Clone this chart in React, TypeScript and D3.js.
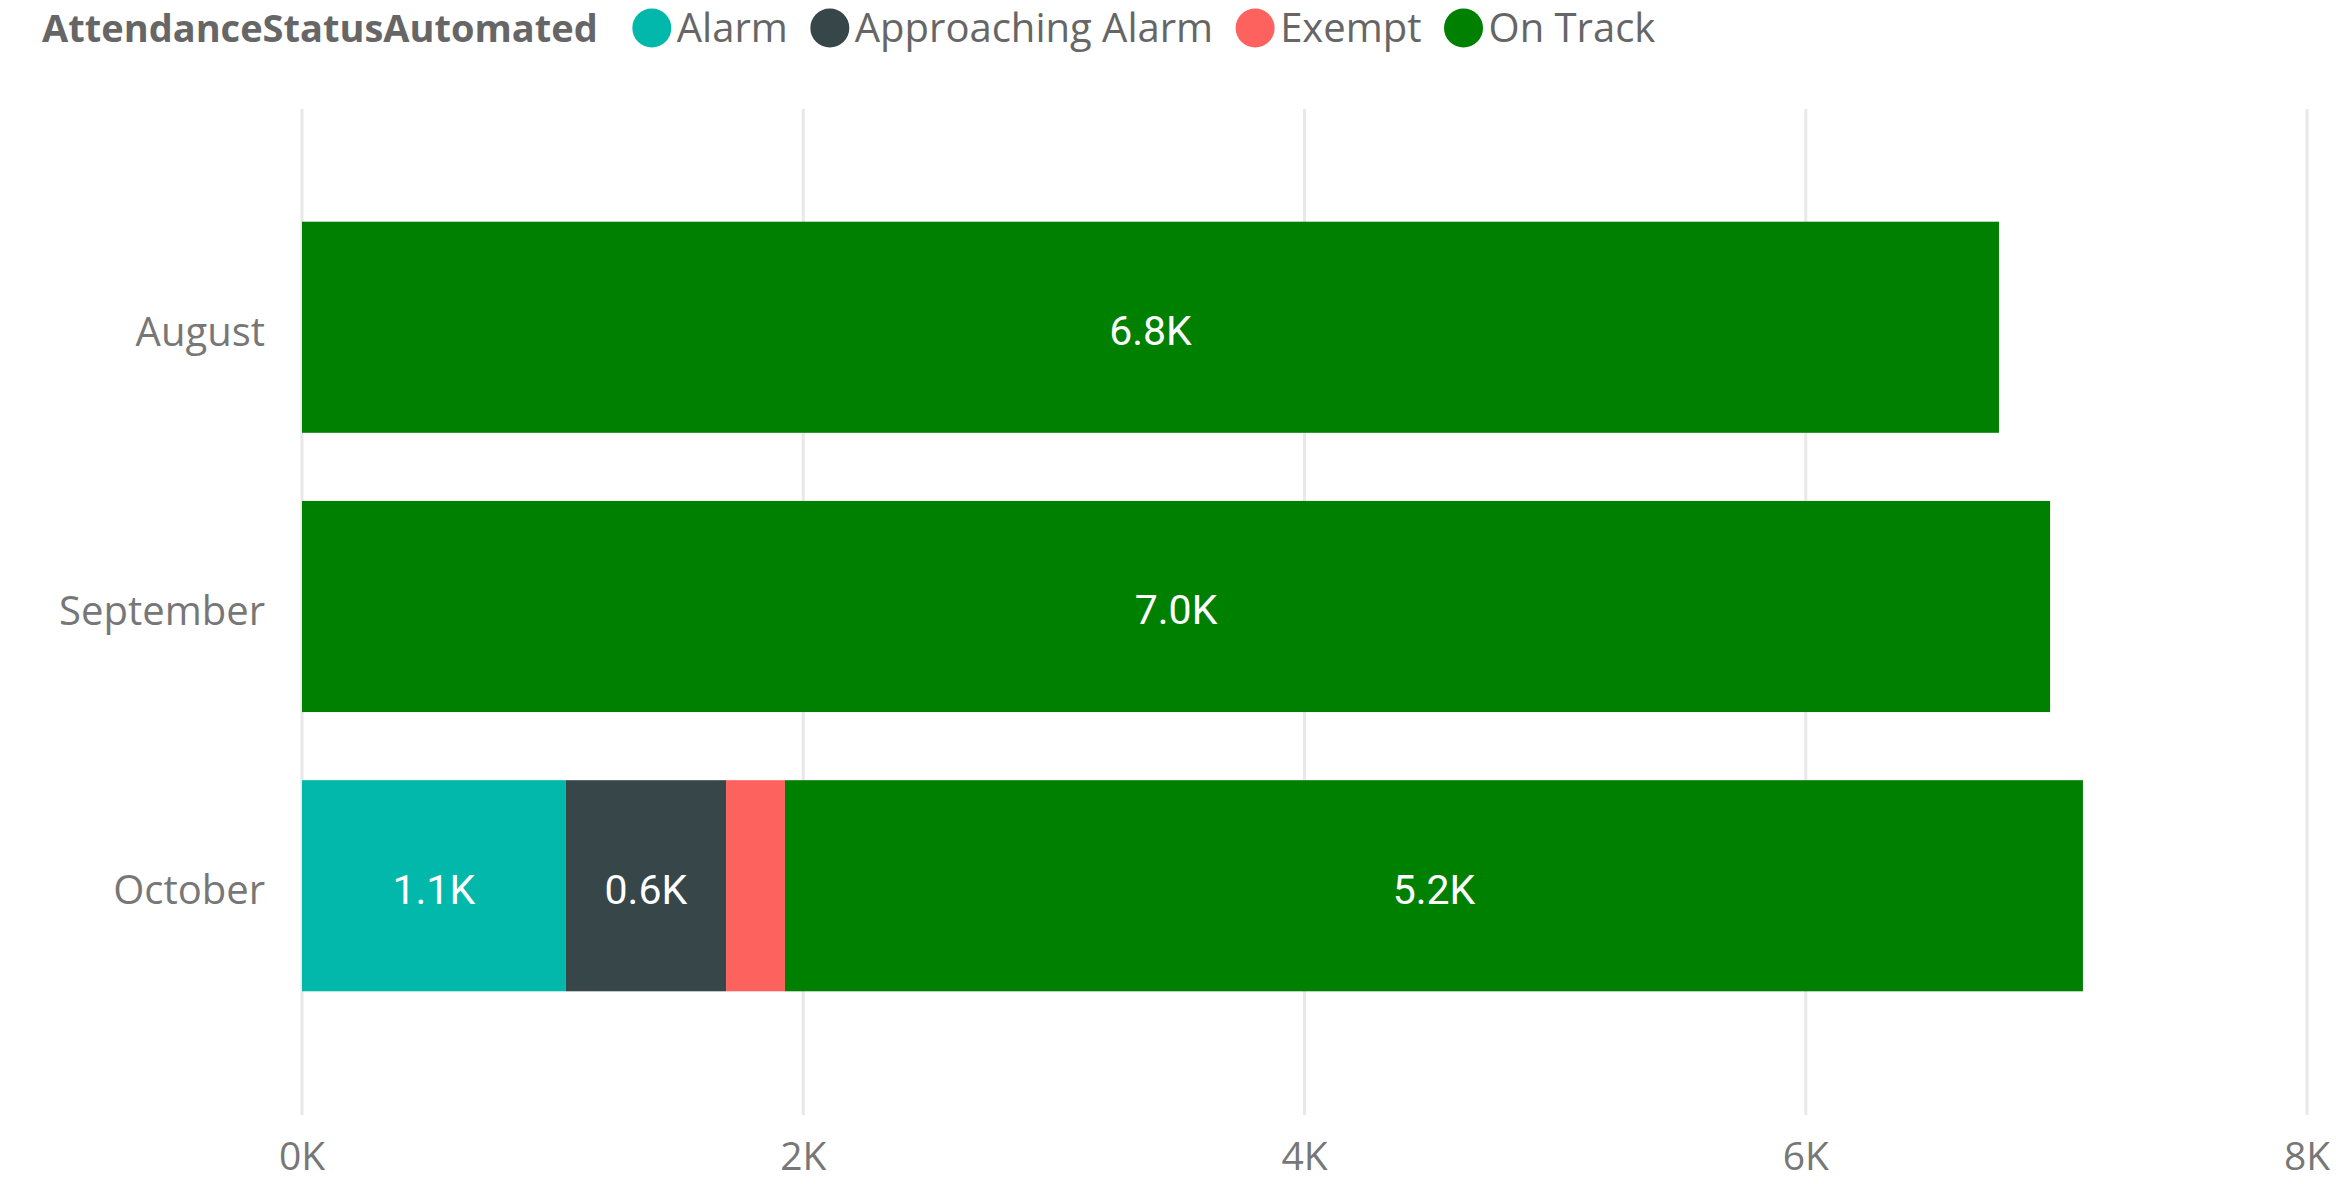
import React, { useEffect, useRef } from "react";
import * as d3 from "d3";

const months = ["August", "September", "October"];
const seriesNames = ["Alarm", "Approaching Alarm", "Exempt", "On Track"];
const alarm = [0, 0, 1052];
const approachingAlarm = [0, 0, 640];
const exempt = [0, 0, 235];
const onTrack = [6771, 6975, 5179];
const seriesColors = ["#01B8AA", "#374649", "#FD625E", "#008000"];
const xTicks = [0, 2000, 4000, 6000, 8000];
const legendTitle = "AttendanceStatusAutomated";

const W = 2336;
const H = 1184;

export default function App() {
  const ref = useRef<SVGSVGElement>(null);

  useEffect(() => {
    const svg = d3.select(ref.current);
    svg.selectAll("*").remove();

    const rows = months.map((m, i) => ({
      month: m,
      "Alarm": alarm[i],
      "Approaching Alarm": approachingAlarm[i],
      "Exempt": exempt[i],
      "On Track": onTrack[i],
    }));

    const x = d3.scaleLinear().domain([0, 8000]).range([302, 2307]);
    const y = d3
      .scaleBand()
      .domain(months)
      .range([110, 1103])
      .paddingInner(0.244)
      .paddingOuter(0.4);
    const color = d3.scaleOrdinal<string, string>().domain(seriesNames).range(seriesColors);

    // gridlines
    svg
      .append("g")
      .selectAll("line")
      .data(xTicks)
      .join("line")
      .attr("x1", (d) => x(d))
      .attr("x2", (d) => x(d))
      .attr("y1", 109)
      .attr("y2", 1115)
      .attr("stroke", "#e8e8e8")
      .attr("stroke-width", 3);

    // x tick labels
    svg
      .append("g")
      .selectAll("text")
      .data(xTicks)
      .join("text")
      .attr("x", (d) => x(d))
      .attr("y", 1156)
      .attr("dy", "0.36em")
      .attr("text-anchor", "middle")
      .attr("font-family", "'Open Sans', 'Noto Sans', sans-serif")
      .attr("font-size", 39)
      .attr("fill", "#777777")
      .text((d) => `${d / 1000}K`);

    // y labels
    svg
      .append("g")
      .selectAll("text")
      .data(months)
      .join("text")
      .attr("x", 265)
      .attr("y", (d) => (y(d) as number) + y.bandwidth() / 2 + 4)
      .attr("dy", "0.36em")
      .attr("text-anchor", "end")
      .attr("font-family", "'Open Sans', 'Noto Sans', sans-serif")
      .attr("font-size", 40)
      .attr("fill", "#777777")
      .text((d) => d);

    const stack = d3.stack<any>().keys(seriesNames);
    const stacked = stack(rows);

    const layers = svg
      .append("g")
      .selectAll("g")
      .data(stacked)
      .join("g")
      .attr("fill", (d) => color(d.key));

    layers
      .selectAll("rect")
      .data((d) => d)
      .join("rect")
      .attr("x", (d) => x(d[0]))
      .attr("width", (d) => Math.max(0, x(d[1]) - x(d[0])))
      .attr("y", (d: any) => y(d.data.month) as number)
      .attr("height", y.bandwidth());

    // data labels
    const labelG = svg.append("g");
    stacked.forEach((layer) => {
      layer.forEach((d: any) => {
        const v = d[1] - d[0];
        if (v <= 0) return;
        const w = x(d[1]) - x(d[0]);
        const t = labelG
          .append("text")
          .attr("x", (x(d[0]) + x(d[1])) / 2)
          .attr("y", (y(d.data.month) as number) + y.bandwidth() / 2 + 3)
          .attr("dy", "0.36em")
          .attr("text-anchor", "middle")
          .attr("font-family", "Roboto, sans-serif")
          .attr("font-size", 41)
          .attr("fill", "#ffffff")
          .text(`${(v / 1000).toFixed(1)}K`);
        const tw = (t.node() as SVGTextElement).getComputedTextLength();
        if (tw + 8 > w) t.remove();
      });
    });

    // legend
    const lg = svg.append("g");
    const ly = 28;
    const title = lg
      .append("text")
      .attr("x", 42)
      .attr("y", ly)
      .attr("dy", "0.36em")
      .attr("font-family", "'Open Sans', 'Noto Sans', sans-serif")
      .attr("font-weight", 700)
      .attr("font-size", 38)
      .attr("fill", "#666666")
      .text(legendTitle);
    let cx = 42 + (title.node() as SVGTextElement).getComputedTextLength() + 35 + 19;
    seriesNames.forEach((name) => {
      lg.append("circle").attr("cx", cx).attr("cy", ly).attr("r", 19.5).attr("fill", color(name));
      const t = lg
        .append("text")
        .attr("x", cx + 25)
        .attr("y", ly)
        .attr("dy", "0.36em")
        .attr("font-family", "'Open Sans', 'Noto Sans', sans-serif")
        .attr("font-size", 40)
        .attr("fill", "#666666")
        .text(name);
      const tw = (t.node() as SVGTextElement).getComputedTextLength();
      cx = cx + 25 + tw + 23 + 19;
    });
  }, []);

  return (
    <svg
      ref={ref}
      width={W}
      height={H}
      style={{ position: "absolute", left: 0, top: 0, background: "#ffffff" }}
    />
  );
}
